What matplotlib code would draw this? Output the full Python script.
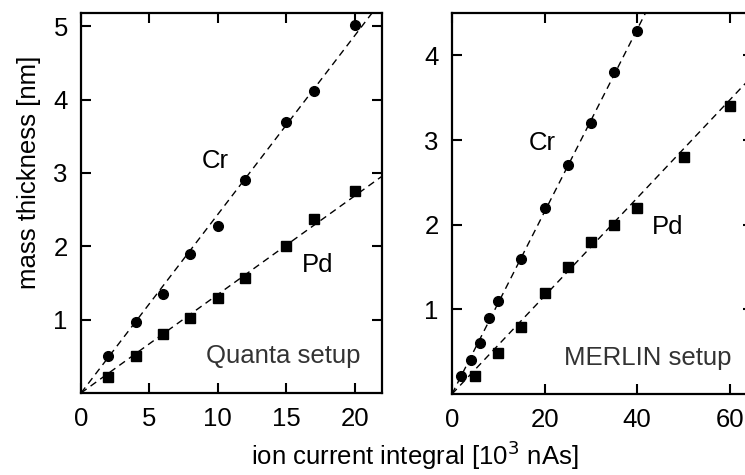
import matplotlib.pyplot as plt
import numpy as np

plt.rcParams['font.family'] = ['Liberation Sans', 'DejaVu Sans']

# Quanta setup (left)
q_cr_x = [2, 4, 6, 8, 10, 12, 15, 17, 20]
q_cr_y = [0.50, 0.97, 1.35, 1.90, 2.27, 2.90, 3.70, 4.12, 5.02]
q_pd_x = [2, 4, 6, 8, 10, 12, 15, 17, 20]
q_pd_y = [0.22, 0.50, 0.80, 1.02, 1.30, 1.57, 2.00, 2.37, 2.75]
q_cr_slope = 0.2435
q_pd_slope = 0.1343

# MERLIN setup (right)
m_cr_x = [2, 4, 6, 8, 10, 15, 20, 25, 30, 35, 40]
m_cr_y = [0.21, 0.40, 0.60, 0.90, 1.10, 1.60, 2.20, 2.70, 3.20, 3.80, 4.29]
m_pd_x = [5, 10, 15, 20, 25, 30, 35, 40, 50, 60]
m_pd_y = [0.21, 0.49, 0.79, 1.19, 1.50, 1.79, 2.00, 2.20, 2.80, 3.40]
m_cr_slope = 0.1077
m_pd_slope = 0.0579

FS = 18.5

fig = plt.figure(figsize=(7.45, 4.75), dpi=100)
W, H = 745, 475
ax1 = fig.add_axes([81 / W, 1 - 393 / H, (382 - 81) / W, (393 - 13) / H])
ax2 = fig.add_axes([452 / W, 1 - 394 / H, (753 - 452) / W, (394 - 13) / H])


def panel(ax, cx, cy, px, py, cs, ps, xmax, ymax):
    xs = np.array([0, xmax])
    ax.plot(xs, cs * xs, linestyle=(0, (5, 3.5)), color='black', lw=1.0)
    ax.plot(xs, ps * xs, linestyle=(0, (5, 3.5)), color='black', lw=1.0)
    ax.plot(cx, cy, 'o', color='black', markersize=7, linestyle='none')
    ax.plot(px, py, 's', color='black', markersize=7, linestyle='none')
    ax.set_xlim(0, xmax)
    ax.set_ylim(0, ymax)
    ax.tick_params(direction='in', length=7, width=1.5, top=True, right=True,
                   labelsize=FS)
    ax.tick_params(axis='x', pad=10)
    ax.tick_params(axis='y', pad=9.5)
    for s in ax.spines.values():
        s.set_linewidth(1.6)


panel(ax1, q_cr_x, q_cr_y, q_pd_x, q_pd_y, q_cr_slope, q_pd_slope, 22, 5.18)
ax1.set_xticks([0, 5, 10, 15, 20])
ax1.set_yticks([1, 2, 3, 4, 5])
ax1.text(9.8, 3.16, 'Cr', fontsize=FS, ha='center', va='center')
ax1.text(17.3, 1.74, 'Pd', fontsize=FS, ha='center', va='center')
ax1.text(14.8, 0.50, 'Quanta setup', fontsize=FS, ha='center', va='center', color='#333333')

panel(ax2, m_cr_x, m_cr_y, m_pd_x, m_pd_y, m_cr_slope, m_pd_slope, 65, 4.5)
ax2.set_xticks([0, 20, 40, 60])
ax2.set_yticks([1, 2, 3, 4])
ax2.text(19.4, 2.96, 'Cr', fontsize=FS, ha='center', va='center')
ax2.text(46.6, 1.97, 'Pd', fontsize=FS, ha='center', va='center')
ax2.text(42.2, 0.43, 'MERLIN setup', fontsize=FS, ha='center', va='center', color='#333333')

fig.text(29 / W, 1 - 172 / H, 'mass thickness [nm]', rotation=90, fontsize=FS,
         ha='center', va='center')
fig.text(415 / W, 1 - 455 / H, r'ion current integral [10$^3$ nAs]', fontsize=FS,
         ha='center', va='center')

fig.savefig('out.png', dpi=100)
